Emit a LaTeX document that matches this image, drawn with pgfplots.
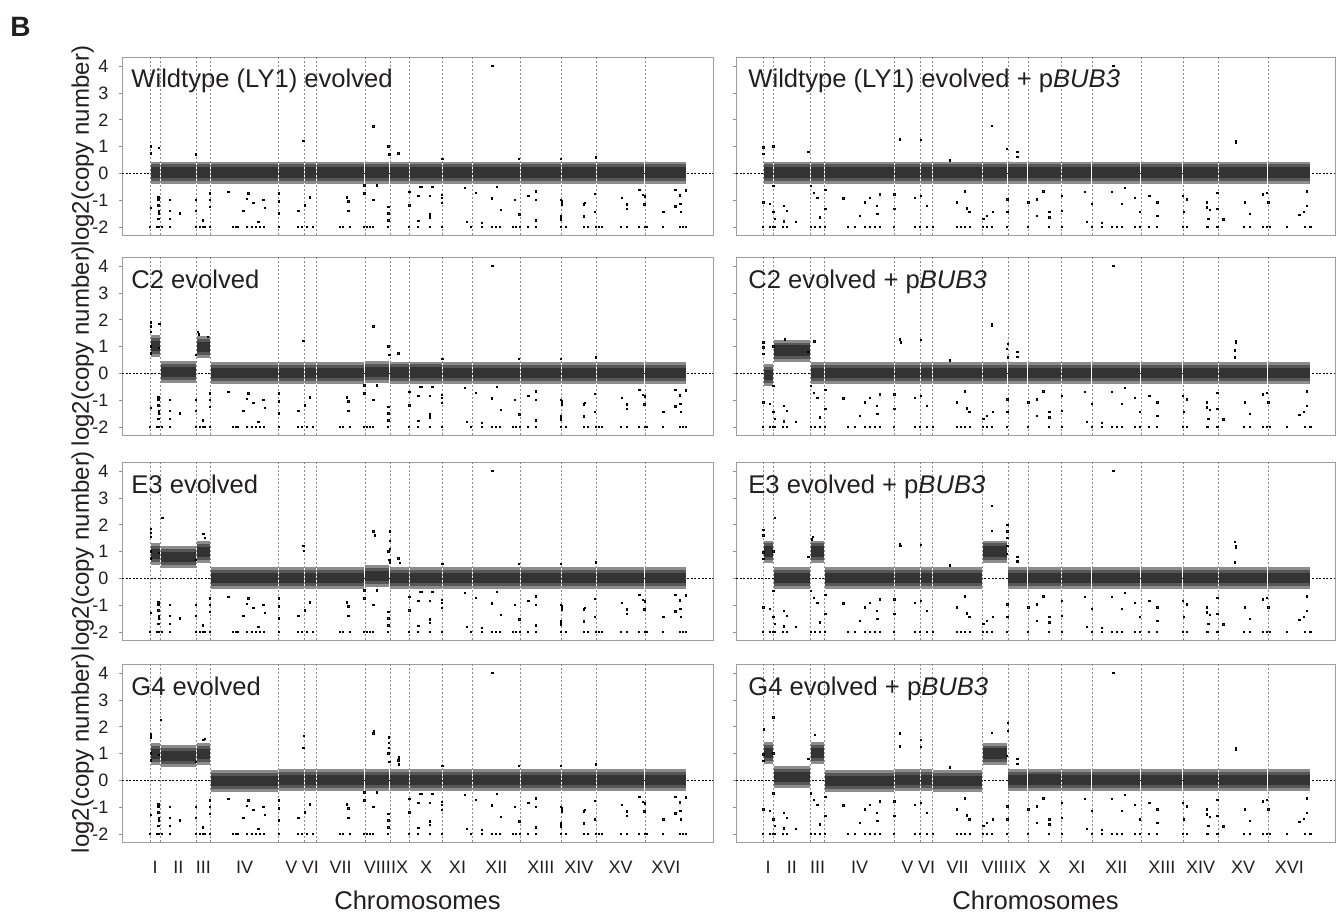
\documentclass[border=0pt]{standalone}
\usepackage{fontspec}
\setmainfont{Liberation Sans}
\usepackage{pgfplots}
\pgfplotsset{compat=1.18}
\usepackage{pgfplotstable}

\definecolor{txt}{HTML}{231F20}

% chromosome start / end positions (kb)
\def\chrstart{{0,230,1043,1360,2892,3469,3739,4830,5393,5833,6579,7246,8324,9248,10032,11123}}
\def\chrend{{230,1043,1360,2892,3469,3739,4830,5393,5833,6579,7246,8324,9248,10032,11123,12071}}

% dense probe band of each chromosome, one level per chromosome
\newcommand\bands[1]{%
  \foreach \lv [count=\i from 0] in {#1}{%
    \pgfmathsetmacro\xa{\chrstart[\i]+12}%
    \pgfmathsetmacro\xb{\chrend[\i]-12}%
    \pgfmathsetmacro\ya{\lv-0.41}\pgfmathsetmacro\yb{\lv+0.41}%
    \pgfmathsetmacro\yc{\lv-0.3}\pgfmathsetmacro\yd{\lv+0.3}%
    \pgfmathsetmacro\ye{\lv-0.19}\pgfmathsetmacro\yf{\lv+0.19}%
    \edef\tmp{%
      \noexpand\addplot[draw=none, fill=black!45] coordinates {(\xa,\ya) (\xb,\ya) (\xb,\yb) (\xa,\yb)} -- cycle;
      \noexpand\addplot[draw=none, fill=black!66] coordinates {(\xa,\yc) (\xb,\yc) (\xb,\yd) (\xa,\yd)} -- cycle;
      \noexpand\addplot[draw=none, fill=black!80] coordinates {(\xa,\ye) (\xb,\ye) (\xb,\yf) (\xa,\yf)} -- cycle;
    }\tmp
  }%
}

% outlier probes, left column
\pgfplotstableread{
x y
0 -2
157 -2
202 -2
270 -2
450 -2
1034 -2
1124 -2
1191 -2
1236 -2
1349 -2
1866 -2
1933 -2
1978 -2
2180 -2
2293 -2
2383 -2
2473 -2
2563 -2
2900 -2
3327 -2
3417 -2
3529 -2
3664 -2
4271 -2
4339 -2
4496 -2
4811 -2
4878 -2
4946 -2
5013 -2
5350 -2
5822 -2
6025 -2
6294 -2
6564 -2
7216 -2
7463 -2
7688 -2
7778 -2
7868 -2
8160 -2
8228 -2
8318 -2
8497 -2
8677 -2
9239 -2
9352 -2
9756 -2
9846 -2
10026 -2
10094 -2
10161 -2
10588 -2
10723 -2
10993 -2
11128 -2
11173 -2
11532 -2
11914 -2
11981 -2
12049 -2
20 -1.3
20 1.0
20 0.75
187 -0.9
187 -1.0
187 -1.2
200 -1.4
200 -1.5
187 -1.7
200 0.95
450 -1.0
450 -1.4
450 -1.7
674 -1.5
1034 -1.4
1034 -1.0
1034 0.7
1184 -1.75
1349 -0.75
1349 -1.0
1349 -1.25
1761 -0.7
2098 -1.4
2173 -0.95
2211 -0.75
2323 -1.1
2436 -1.8
2548 -1.0
2585 -1.3
2893 -0.75
2893 -1.05
2893 -1.5
3334 -1.4
3447 1.2
3484 -1.2
3597 -0.9
4421 -0.9
4458 -1.05
4458 -1.4
4818 -0.45
4818 -0.75
5020 -1.0
5020 1.75
5095 -0.45
5357 -1.25
5357 -1.5
5357 -1.75
5357 1.0
5380 0.7
5582 0.75
5829 -0.7
5829 -1.2
6032 -1.78
6032 -0.83
6070 -0.5
6100 -0.5
6294 -0.83
6294 -1.53
6294 -1.65
6347 -0.5
6557 -0.8
6557 -0.92
6557 -1.1
6572 0.55
7081 -0.55
7119 -1.82
7328 -0.74
7456 -1.84
7681 -0.94
7696 4.0
7793 -0.5
7883 -1.37
8205 -0.98
8296 0.55
8303 -1.53
8505 -0.83
8677 -1.0
8677 -0.67
8677 -1.75
9239 -0.98
9239 -1.6
9239 -1.72
9239 0.55
9266 -1.05
9255 -1.16
9756 -1.16
9780 -1.1
9756 -1.6
10004 -0.76
10004 -1.45
10018 0.6
10603 -0.92
10715 -1.16
10715 -1.32
11000 -0.61
11076 -0.8
11113 -1.16
11120 -0.86
11539 -1.45
11809 -0.61
11809 -1.23
11914 -0.82
11925 -1.13
11930 -1.45
12049 -0.64
}\outL

% outlier probes, right column
\pgfplotstableread{
x y
0 -2
154 -2
220 -2
264 -2
441 -2
529 -2
1057 -2
1146 -2
1256 -2
1366 -2
1873 -2
2027 -2
2247 -2
2357 -2
2467 -2
2578 -2
2886 -2
3349 -2
3459 -2
3613 -2
3745 -2
4274 -2
4362 -2
4450 -2
4560 -2
4847 -2
4935 -2
5045 -2
5375 -2
5838 -2
6301 -2
6587 -2
7248 -2
7468 -2
7688 -2
7798 -2
7909 -2
8195 -2
8305 -2
8503 -2
8680 -2
9253 -2
9341 -2
9782 -2
9804 -2
10002 -2
10024 -2
10597 -2
10729 -2
11015 -2
11103 -2
11169 -2
11543 -2
11940 -2
12060 -2
7 -1.09
7 0.97
7 0.73
227 1.0
154 -1.15
227 -1.45
264 -1.7
227 -0.48
463 -1.21
522 -1.39
463 -1.79
727 -1.82
1051 -0.48
1124 -0.73
1197 -0.91
1256 -1.64
1372 -0.61
1372 -1.33
998 0.79
1769 -0.93
2137 -1.58
2247 -1.09
2357 -0.91
2505 -1.21
2518 -1.52
2577 -0.79
3018 1.27
2892 -1.33
2892 -0.79
3349 -0.91
3474 1.24
3474 -0.85
3606 -1.21
4113 0.48
4267 -1.09
4450 -0.67
4487 -1.31
4545 -1.45
4853 -1.7
4928 -1.58
5038 1.76
5060 -1.45
5369 0.91
5382 -0.97
5382 -1.45
5602 0.79
5602 0.61
5844 -1.09
6030 -0.97
6030 -1.58
6175 -0.67
6307 -1.45
6307 -1.64
6580 -0.85
6580 -1.39
7094 -0.7
7131 -1.82
7241 -1.15
7461 -1.84
7682 -0.7
7717 4.0
7902 -1.15
7975 -0.55
8195 -0.91
8305 -1.45
8510 -0.85
8686 -1.09
8686 -1.58
9246 -0.85
9275 -1.45
9334 -0.97
9775 -1.09
9775 -1.27
9848 -1.36
9811 -1.7
10008 -0.73
10008 -1.33
10140 -1.72
10414 1.21
10414 1.15
10618 -1.09
10729 -1.52
11009 -0.79
11097 -0.73
11132 -1.09
11815 -1.55
11918 -1.43
11977 -1.21
11977 -0.67
}\outR

% panel specific extra probes
\pgfplotstableread{
x y
20 1.9
20 1.75
20 1.55
215 1.85
1070 1.55
1100 1.45
1300 1.35
}\exLb
\pgfplotstableread{
x y
20 1.85
20 1.7
20 1.55
280 2.25
1200 1.65
1240 1.5
3462 1.03
5054 1.6
5395 1.75
5395 1.4
5395 1.1
5395 0.6
5620 0.58
}\exLc
\pgfplotstableread{
x y
20 1.72
20 1.6
250 2.25
1200 1.5
1230 1.55
3462 1.65
5036 1.85
5373 1.6
5373 1.4
5373 1.2
5597 0.85
5597 0.6
}\exLd
\pgfplotstableread{
x y
7 1.15
485 1.27
1135 1.19
3036 1.15
5045 1.82
5397 1.09
5397 0.6
5609 0.79
10398 0.85
10398 0.6
}\exRb
\pgfplotstableread{
x y
7 1.8
7 1.6
264 2.25
1080 1.45
1100 1.55
3030 1.2
5045 2.7
5380 2.0
5380 1.75
5380 1.5
5380 1.2
5600 0.65
10400 1.35
10400 0.6
}\exRc
\pgfplotstableread{
x y
15 1.9
227 2.35
1146 1.7
3018 1.75
3480 1.5
5390 2.15
5390 1.85
}\exRd

\pgfplotsset{
  cnv/.style={
    scale only axis, height=89pt,
    ymin=-2.3, ymax=4.34, ytick={-2,-1,0,1,2,3,4},
    scaled x ticks=false,
    tick pos=left, tick align=outside,
    axis line style={black!38, line width=0.45pt},
    ytick style={black!45, line width=0.4pt}, major tick length=1.6pt,
    xtick={115,636.5,1201.5,2126,3180.5,3604,4284.5,5111.5,5613,6206,6912.5,7785,8786,9640,10577.5,11597},
    xtick style={draw=none},
    xticklabels={},
    extra x ticks={0,230,1043,1360,2892,3469,3739,4830,5393,5833,6579,7246,8324,9248,10032,11123},
    extra x tick labels={},
    extra x tick style={grid=major, major grid style={black!45, line width=0.3pt, dash pattern=on 1.1pt off 0.9pt}},
    extra y ticks={0}, extra y tick labels={},
    extra y tick style={grid=major, major grid style={black, line width=0.35pt, dash pattern=on 1pt off 0.8pt}},
    /pgf/number format/assume math mode=true,
    tick label style={font=\fontsize{9}{10}\selectfont, text=txt},
    yticklabel style={inner sep=0pt, xshift=-5pt},
    xticklabel style={inner sep=0pt, yshift=-8pt},
  },
  lp/.style={cnv, width=295.5pt, xmin=-629, xmax=12656,
    ylabel={log2(copy number)},
    ylabel style={at={(axis description cs:-0.047,0.5)}, anchor=south, inner sep=0pt,
      font=\fontsize{12}{14}\selectfont, text=txt}},
  rp/.style={cnv, width=299.5pt, xmin=-595, xmax=12601, yticklabels={}},
  bot/.style={xticklabels={I,II,III,IV,V,VI,VII,VIII,IX,X,XI,XII,XIII,XIV,XV,XVI},
    xlabel={Chromosomes},
    xlabel style={at={(axis description cs:0.5,-0.275)}, anchor=north, inner sep=0pt,
      font=\fontsize{12.8}{14}\selectfont, text=txt}},
  pts/.style={only marks, mark=square*, mark size=0.34pt, mark options={draw=none, fill=black!72}},
}
\tikzset{ttl/.style={anchor=base west, inner sep=0pt, font=\fontsize{12.8}{15}\selectfont, text=txt, yshift=-15.5pt}}

\begin{document}
\begin{tikzpicture}
\path[use as bounding box] (0,0) rectangle (668pt,-457.5pt);
\node[anchor=base west, inner sep=0pt, font=\fontsize{14}{16}\selectfont\bfseries, text=txt] at (5pt,-18.5pt) {B};

% row 1
\begin{axis}[lp, at={(61pt,-28.5pt)}, anchor=north west]
\bands{0.03,0.03,0.03,0.03,0.03,0.03,0.03,0.03,0.03,0.03,0.03,0.03,0.03,0.03,0.03,0.03}
\addplot[pts] table {\outL};
\node[ttl, xshift=4.5pt] at (rel axis cs:0,1) {Wildtype (LY1) evolved};
\end{axis}
\begin{axis}[rp, at={(368pt,-28.5pt)}, anchor=north west]
\bands{0.03,0.03,0.03,0.03,0.03,0.03,0.03,0.03,0.03,0.03,0.03,0.03,0.03,0.03,0.03,0.03}
\addplot[pts] table {\outR};
\node[ttl, xshift=6pt] at (rel axis cs:0,1) {Wildtype (LY1) evolved + p\textit{BUB3}};
\end{axis}

% row 2
\begin{axis}[lp, at={(61pt,-128.5pt)}, anchor=north west]
\bands{1.02,0.06,0.98,0,0.02,0.02,0.02,0.05,0.03,0.03,0.02,0.02,0.02,0.02,0.02,0.02}
\addplot[pts] table {\outL};
\addplot[pts] table {\exLb};
\node[ttl, xshift=4.5pt] at (rel axis cs:0,1) {C2 evolved};
\end{axis}
\begin{axis}[rp, at={(368pt,-128.5pt)}, anchor=north west]
\bands{-0.05,0.85,0.02,0.0,0.02,0.02,0.02,0.02,0.02,0.02,0.02,0.02,0.02,0.02,0.02,0.02}
\addplot[pts] table {\outR};
\addplot[pts] table {\exRb};
\node[ttl, xshift=6pt] at (rel axis cs:0,1) {C2 evolved + p\textit{BUB3}};
\end{axis}

% row 3
\begin{axis}[lp, at={(61pt,-231pt)}, anchor=north west]
\bands{0.92,0.8,0.97,0,0,0.02,0.02,0.1,0.02,0.02,0.0,0.02,0.02,0.02,0.02,0.02}
\addplot[pts] table {\outL};
\addplot[pts] table {\exLc};
\node[ttl, xshift=4.5pt] at (rel axis cs:0,1) {E3 evolved};
\end{axis}
\begin{axis}[rp, at={(368pt,-231pt)}, anchor=north west]
\bands{1.0,0.0,1.0,0.0,0.02,0.02,0.02,1.0,0.02,0.02,0.02,0.02,0.02,0.02,0.02,0.02}
\addplot[pts] table {\outR};
\addplot[pts] table {\exRc};
\node[ttl, xshift=6pt] at (rel axis cs:0,1) {E3 evolved + p\textit{BUB3}};
\end{axis}

% row 4
\begin{axis}[lp, bot, at={(61pt,-332pt)}, anchor=north west]
\bands{0.97,0.9,0.97,-0.03,0.0,0.0,0.0,0.02,0.02,0.02,0.0,0.02,0.02,0.02,0.02,0.02}
\addplot[pts] table {\outL};
\addplot[pts] table {\exLd};
\node[ttl, xshift=4.5pt] at (rel axis cs:0,1) {G4 evolved};
\end{axis}
\begin{axis}[rp, bot, at={(368pt,-332pt)}, anchor=north west]
\bands{1.03,0.12,1.03,-0.02,0.02,0.02,-0.02,1.0,0.02,0.03,0.02,0.0,0.0,0.0,0.02,0.02}
\addplot[pts] table {\outR};
\addplot[pts] table {\exRd};
\node[ttl, xshift=6pt] at (rel axis cs:0,1) {G4 evolved + p\textit{BUB3}};
\end{axis}
\end{tikzpicture}
\end{document}
